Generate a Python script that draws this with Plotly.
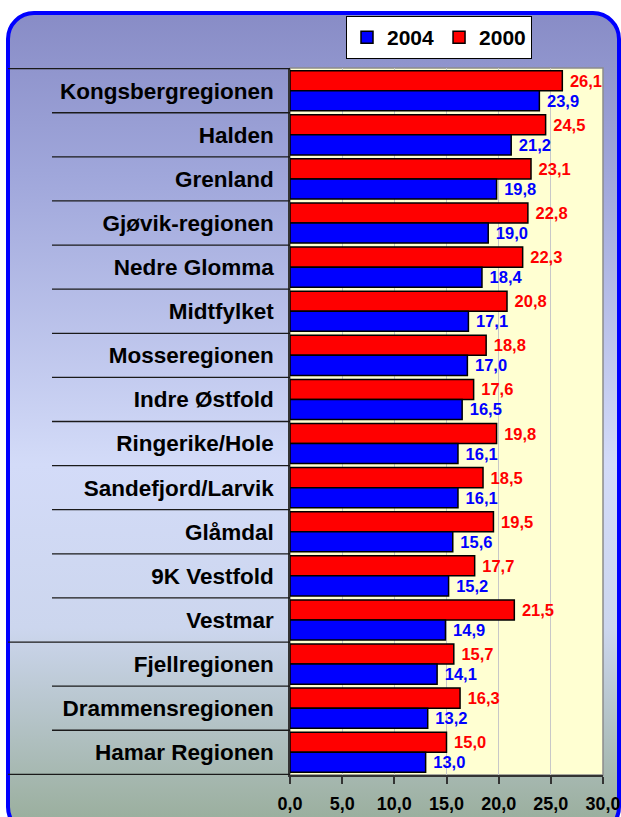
import base64
import plotly.graph_objects as go

categories = ["Kongsbergregionen", "Halden", "Grenland", "Gjøvik-regionen", "Nedre Glomma",
              "Midtfylket", "Mosseregionen", "Indre Østfold", "Ringerike/Hole", "Sandefjord/Larvik",
              "Glåmdal", "9K Vestfold", "Vestmar", "Fjellregionen", "Drammensregionen", "Hamar Regionen"]
v2004 = [23.9, 21.2, 19.8, 19.0, 18.4, 17.1, 17.0, 16.5, 16.1, 16.1, 15.6, 15.2, 14.9, 14.1, 13.2, 13.0]
v2000 = [26.1, 24.5, 23.1, 22.8, 22.3, 20.8, 18.8, 17.6, 19.8, 18.5, 19.5, 17.7, 21.5, 15.7, 16.3, 15.0]
xticks = [0, 5, 10, 15, 20, 25, 30]

W, H = 621, 817
L, R, T, B = 290, 18, 68, 42
pw, ph = W - L - R, H - T - B

FONT = "Arial, Liberation Sans, sans-serif"

svg = f'''<svg xmlns="http://www.w3.org/2000/svg" width="{W}" height="{H}" viewBox="0 0 {W} {H}" preserveAspectRatio="none">
<defs><linearGradient id="g" x1="0" y1="0" x2="0" y2="1">
<stop offset="0" stop-color="#888CC6"/>
<stop offset="0.2" stop-color="#A0A7DB"/>
<stop offset="0.55" stop-color="#D3DBF8"/>
<stop offset="0.75" stop-color="#CCD6EE"/>
<stop offset="1" stop-color="#97AC98"/>
</linearGradient></defs>
<rect x="0" y="0" width="{W}" height="{H}" fill="white"/>
<rect x="8" y="13" width="611" height="820" rx="26" ry="26" fill="url(#g)" stroke="#0000FF" stroke-width="4"/>
<rect x="{L}" y="{T}" width="{pw}" height="{ph}" fill="#FFFFD2"/>
</svg>'''
src = "data:image/svg+xml;base64," + base64.b64encode(svg.encode("utf-8")).decode()

fig = go.Figure()
fig.add_trace(go.Bar(
    y=categories, x=v2000, name="2000", orientation="h",
    marker=dict(color="#FF0000", line=dict(color="#000000", width=1.5)),
    text=v2000, texttemplate=" %{x:.1f}", textposition="outside",
    textfont=dict(family=FONT, size=16.5, color="#FF0000", weight="bold"),
    constraintext="none", cliponaxis=False,
))
fig.add_trace(go.Bar(
    y=categories, x=v2004, name="2004", orientation="h",
    marker=dict(color="#0000FF", line=dict(color="#000000", width=1.5)),
    text=v2004, texttemplate=" %{x:.1f}", textposition="outside",
    textfont=dict(family=FONT, size=16.5, color="#0000FF", weight="bold"),
    constraintext="none", cliponaxis=False,
))

shapes = []
n = len(categories)
full_idx = {0, 13, n}
for i in range(n + 1):
    x0 = -(L - 8) / pw if i in full_idx else -(L - 52) / pw
    shapes.append(dict(type="line", xref="paper", yref="y", x0=x0, x1=0,
                       y0=i - 0.5, y1=i - 0.5, line=dict(color="#1A1A1A", width=1.3)))
shapes.append(dict(type="rect", xref="paper", yref="paper", x0=0, x1=1, y0=0, y1=1,
                   line=dict(color="#8C8C8C", width=1.5), layer="below"))

fig.update_layout(
    width=W, height=H,
    margin=dict(l=L, r=R, t=T, b=B, pad=0, autoexpand=False),
    paper_bgcolor="white", plot_bgcolor="rgba(0,0,0,0)",
    barmode="group", bargap=0.09, bargroupgap=0,
    separators=", ",
    images=[dict(source=src, xref="paper", yref="paper", x=-L / pw, y=1 + T / ph,
                 sizex=W / pw, sizey=H / ph, sizing="stretch", xanchor="left", yanchor="top",
                 layer="below")],
    shapes=shapes,
    showlegend=True,
    legend=dict(orientation="h", x=(346 - L) / pw, y=1 + (T - 16) / ph, xanchor="left", yanchor="top",
                bgcolor="white", bordercolor="#000000", borderwidth=1,
                font=dict(family=FONT, size=21, color="black", weight="bold"),
                traceorder="reversed", itemwidth=30),
    xaxis=dict(range=[0, 30], tickvals=xticks, tickformat=".1f", showgrid=True, automargin=False,
               gridcolor="#C8C8C8", gridwidth=1, zeroline=False,
               showline=True, linecolor="#333333", linewidth=1.5,
               ticks="outside", ticklen=7, tickcolor="#333333", tickwidth=1.5, ticklabelstandoff=5,
               tickfont=dict(family=FONT, size=18, color="black", weight="bold")),
    yaxis=dict(categoryorder="array", categoryarray=categories, autorange="reversed", automargin=False,
               showgrid=False, zeroline=False, showline=True, linecolor="#333333", linewidth=1.5,
               ticks="", ticklabelstandoff=10,
               tickfont=dict(family=FONT, size=22.5, color="black", weight="bold")),
)

fig.write_html("out.html", config={"displayModeBar": False},
               post_script="document.body.style.margin='0';document.body.style.overflow='hidden';")
